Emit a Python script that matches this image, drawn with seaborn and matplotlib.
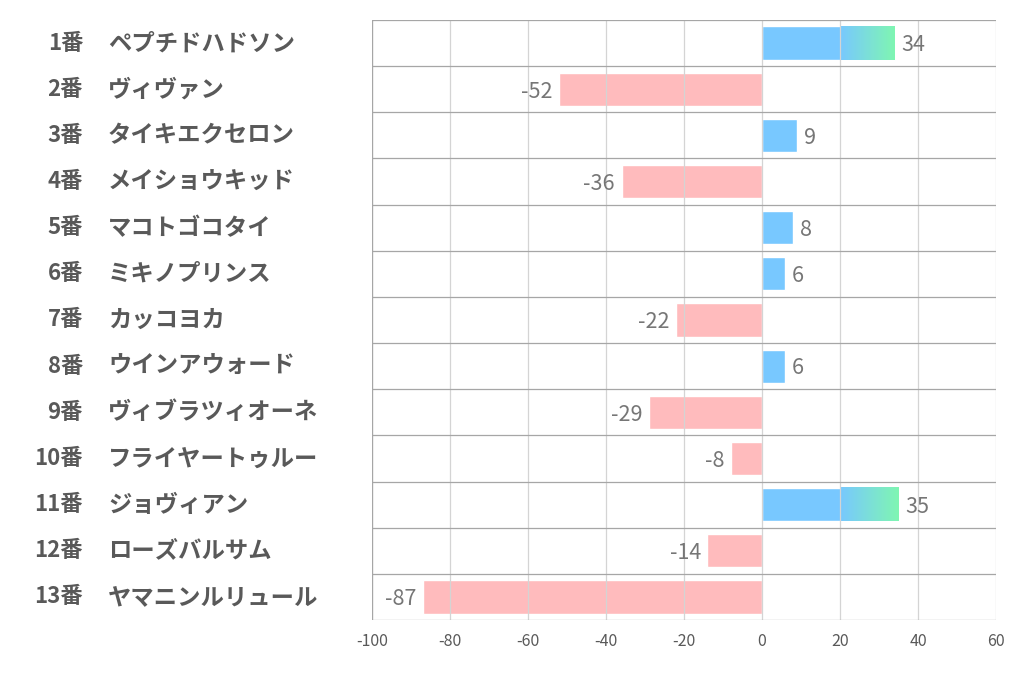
import numpy as np
import pandas as pd
import matplotlib
matplotlib.use('Agg')
import matplotlib.pyplot as plt
import matplotlib.colors as mcolors
import seaborn as sns

# chart data
numbers = ['1番', '2番', '3番', '4番', '5番', '6番', '7番',
           '8番', '9番', '10番', '11番', '12番', '13番']
names = ['ペプチドハドソン', 'ヴィヴァン', 'タイキエクセロン', 'メイショウキッド',
         'マコトゴコタイ', 'ミキノプリンス', 'カッコヨカ', 'ウインアウォード',
         'ヴィブラツィオーネ', 'フライヤートゥルー', 'ジョヴィアン',
         'ローズバルサム', 'ヤマニンルリュール']
values = [34, -52, 9, -36, 8, 6, -22, 6, -29, -8, 35, -14, -87]
x_ticks = [-100, -80, -60, -40, -20, 0, 20, 40, 60]

blue = '#78C8FF'
green = '#7FF6B2'
pink = '#FFBBBD'

sns.set_theme(style='white')
plt.rcParams['font.family'] = ['Noto Sans CJK JP', 'DejaVu Sans']

df = pd.DataFrame({'label': numbers, 'name': names, 'value': values})
df['sign'] = np.where(df['value'] >= 0, 'pos', 'neg')

fig = plt.figure(figsize=(10.22, 6.78), dpi=100)
ax = fig.add_axes([372 / 1022, 1 - 620 / 678, 624 / 1022, 600 / 678])

sns.barplot(data=df, x='value', y='label', hue='sign',
            palette={'pos': blue, 'neg': pink}, orient='h', saturation=1,
            width=0.72, dodge=False, legend=False, ax=ax, zorder=2)

# gradient on long positive bars (from 20 to the end)
cmap = mcolors.LinearSegmentedColormap.from_list('bg', [blue, green])
for p in ax.patches:
    w = p.get_width()
    if w > 20:
        y0 = p.get_y()
        y1 = y0 + p.get_height()
        grad = np.linspace(0, 1, 256).reshape(1, -1)
        ax.imshow(grad, cmap=cmap, aspect='auto', extent=(20, w, y1, y0),
                  zorder=2.5, interpolation='bicubic')

ax.set_xlim(-100, 60)
ax.set_ylim(12.5, -0.5)
ax.set_xticks(x_ticks)
ax.set_xticklabels([str(t) for t in x_ticks], color='#595959', fontsize=11.5)
ax.tick_params(axis='x', length=0, pad=9)
ax.set_yticks([])
ax.set_xlabel('')
ax.set_ylabel('')

# grid lines drawn over bars
for t in x_ticks:
    ax.axvline(t, color='#D4D4D4', lw=0.9, zorder=3)
ax.axvline(-100, color='#A6A6A6', lw=0.9, zorder=3)
for k in range(len(values) + 1):
    ax.axhline(k - 0.5, color='#A6A6A6', lw=0.9, zorder=3)
for s in ax.spines.values():
    s.set_visible(False)

# value labels
for i, v in enumerate(values):
    if v >= 0:
        ax.text(v + 1.7, i + 0.05, str(v), ha='left', va='center',
                fontsize=15.5, color='#767676', zorder=4)
    else:
        ax.text(v - 1.7, i + 0.05, str(v), ha='right', va='center',
                fontsize=15.5, color='#767676', zorder=4)

# row labels on the left
trans = matplotlib.transforms.blended_transform_factory(fig.transFigure, ax.transData)
for i in range(len(values)):
    ax.text(83 / 1022, i, numbers[i], ha='right', va='center', transform=trans,
            fontsize=16, fontweight='bold', color='#595959', clip_on=False)
    ax.text(108 / 1022, i, names[i], ha='left', va='center', transform=trans,
            fontsize=16.8, fontweight='bold', color='#595959', clip_on=False)

fig.savefig('out.png', dpi=100, facecolor='white')
